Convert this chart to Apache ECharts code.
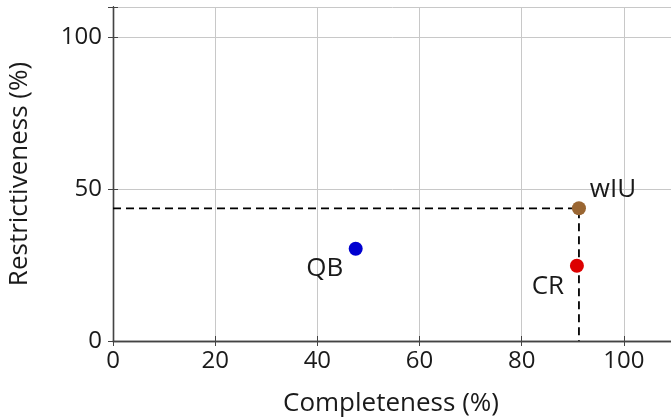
<!DOCTYPE html>
<html><head><meta charset="utf-8">
<script src="https://cdn.jsdelivr.net/npm/echarts@6/dist/echarts.min.js"></script>
<style>html,body{margin:0;padding:0;background:#fff}#c{width:671px;height:420px}</style>
</head><body><div id="c"></div>
<script>
var names = ['QB', 'wIU', 'CR'];
var completeness = [47.5, 91.2, 90.8];
var restrictiveness = [30.4, 43.7, 24.8];
var colors = ['#0000d0', '#9a6632', '#dd0000'];
var labelOffsets = [[-31, 20], [34, -19], [-29, 21]];
var xTicks = [0, 20, 40, 60, 80, 100];
var yTicks = [0, 50, 100];
var refIndex = 1; // dashed guide to wIU

var font = '"Open Sans", sans-serif';
var fsTick = 24;
var fsText = 26;
var chart = echarts.init(document.getElementById('c'), null, {renderer: 'canvas'});
var axisLineStyle = {color: '#444', width: 1.3};
var gridLine = {show: true, lineStyle: {color: '#c8c8c8', width: 1}};

var pointSeries = names.map(function (n, i) {
  return {
    type: 'scatter', name: n, symbolSize: 14,
    itemStyle: {color: colors[i], opacity: 1},
    data: [[completeness[i], restrictiveness[i]]],
    label: {show: true, formatter: n, position: 'inside', align: 'center', verticalAlign: 'middle',
      offset: labelOffsets[i], color: '#1a1a1a', fontSize: fsText, fontFamily: font},
    z: 5
  };
});

var guide = {
  type: 'line', silent: true, symbol: 'none', z: 3,
  lineStyle: {color: '#000', width: 1.8, type: [8, 5]},
  data: [[0, restrictiveness[refIndex]], [completeness[refIndex], restrictiveness[refIndex]], [completeness[refIndex], 0]]
};

chart.setOption({
  animation: false,
  grid: {left: 113, top: 7, width: 562, height: 334, outerBoundsMode: 'none', containLabel: false},
  xAxis: [{
    type: 'value', min: 0, max: 110, interval: 20,
    name: 'Completeness (%)', nameLocation: 'middle', nameGap: 50,
    nameTextStyle: {fontSize: fsText, fontFamily: font, color: '#1a1a1a', padding: [0, 0, 0, -6]},
    axisLine: {show: true, lineStyle: axisLineStyle},
    axisTick: {show: true, inside: true, length: 5, lineStyle: {color: '#444'}},
    axisLabel: {fontSize: fsTick, fontFamily: font, color: '#1a1a1a', margin: 8,
      formatter: function (v) { return xTicks.indexOf(v) >= 0 ? String(v) : ''; }},
    splitLine: gridLine
  }, {
    type: 'value', position: 'top', min: 0, max: 110, interval: 20,
    axisLine: {show: true, lineStyle: axisLineStyle},
    axisTick: {show: true, inside: true, length: 5, lineStyle: {color: '#444'}},
    axisLabel: {show: false}, splitLine: {show: false}
  }],
  yAxis: [{
    type: 'value', min: 0, max: 110, interval: 50,
    name: 'Restrictiveness (%)', nameLocation: 'middle', nameGap: 80,
    nameTextStyle: {fontSize: fsText, fontFamily: font, color: '#1a1a1a'},
    axisLine: {show: true, lineStyle: {color: '#111', width: 1.3}},
    axisTick: {show: true, inside: true, length: 5, lineStyle: {color: '#444'}},
    axisLabel: {fontSize: fsTick, fontFamily: font, color: '#1a1a1a', margin: 11,
      formatter: function (v) { return yTicks.indexOf(v) >= 0 ? String(v) : ''; }},
    splitLine: gridLine
  }, {
    type: 'value', position: 'right', min: 0, max: 110, interval: 50,
    axisLine: {show: true, lineStyle: axisLineStyle},
    axisTick: {show: true, inside: true, length: 5, lineStyle: {color: '#444'}},
    axisLabel: {show: false}, splitLine: {show: false}
  }],
  series: [guide].concat(pointSeries)
});
</script></body></html>
